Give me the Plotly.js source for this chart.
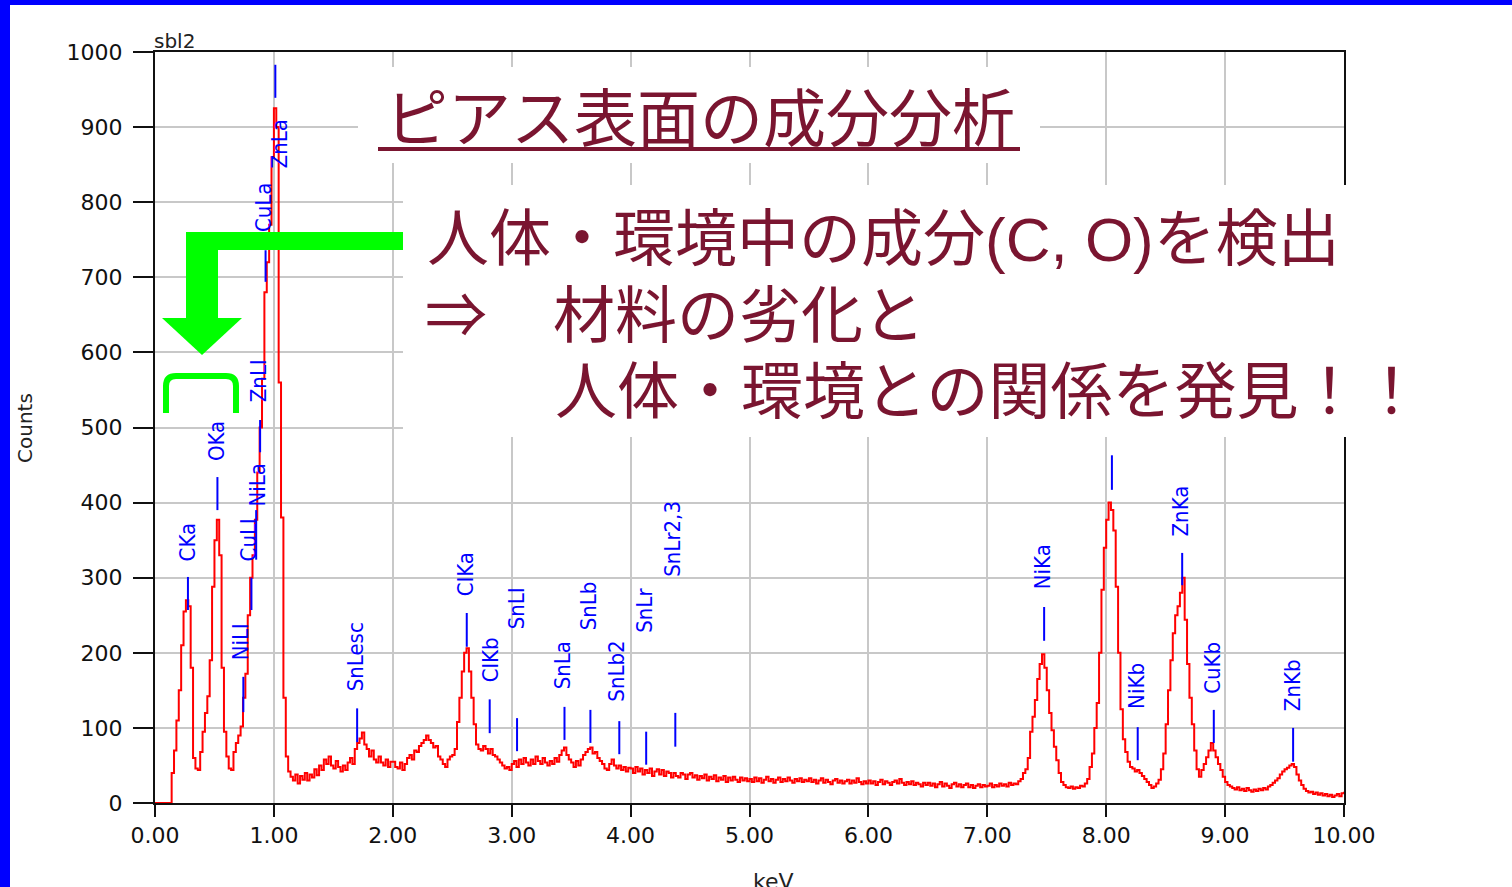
<!DOCTYPE html>
<html>
<head>
<meta charset="utf-8">
<script src="https://cdn.plot.ly/plotly-3.0.1.min.js"></script>
<style>
html,body{margin:0;padding:0;background:#fff;overflow:hidden;}
#chart{width:1512px;height:887px;}
</style>
</head>
<body>
<div id="chart"></div>
<script>
// ---- spectrum data: counts per 0.02 keV channel, 0.00 .. 10.00 keV ----
const keVStep = 0.02;
const counts = [
  0,0,0,0,0,0,0,40,70,110,150,210,255,270,262,180,60,46,44,68,95,120,142,190,288,
  350,377,330,180,95,62,46,44,68,80,90,102,140,172,250,300,330,377,440,500,565,680,720,770,860,
  925,900,560,380,140,62,42,35,30,38,26,36,31,40,30,38,34,45,37,50,44,58,52,62,50,
  46,56,48,42,50,44,54,60,52,72,80,86,94,78,72,62,70,58,54,62,54,50,58,48,55,
  55,48,46,54,44,52,60,64,58,70,68,76,80,84,90,84,80,74,76,62,58,52,48,58,62,
  64,72,108,140,175,200,206,175,140,105,78,72,70,76,72,66,72,64,62,58,54,50,46,48,44,
  52,56,48,58,52,60,54,50,58,52,62,56,52,60,54,50,56,52,60,55,64,70,74,64,58,
  54,48,56,50,58,64,68,72,74,66,68,60,56,52,46,44,52,58,50,46,50,44,48,42,47,
  46,40,48,42,46,38,44,40,46,36,42,45,38,44,36,42,40,34,40,36,34,40,38,32,38,
  40,34,37,31,36,33,38,30,35,32,37,29,34,31,36,28,34,30,35,31,28,34,30,33,29,
  32,28,34,29,33,27,31,35,29,32,27,31,34,28,32,29,34,30,27,32,29,33,28,31,29,
  33,28,31,26,30,33,27,31,28,25,30,32,27,30,26,29,31,26,30,27,33,28,25,29,26,
  30,26,29,24,28,31,25,29,27,24,28,30,26,32,27,24,28,25,29,24,27,25,22,27,24,
  27,23,26,21,25,28,22,26,23,20,25,27,22,25,21,24,26,21,24,20,23,25,21,24,22,
  23,26,21,24,22,26,23,25,22,27,24,26,25,29,32,40,45,60,95,115,137,165,185,198,180,
  150,120,97,75,57,40,28,24,21,20,22,19,21,20,23,22,26,32,48,66,100,133,200,284,340,
  377,400,390,363,288,200,125,85,68,55,48,46,42,44,40,36,32,28,24,20,22,26,31,45,66,
  105,150,190,226,250,262,280,300,244,185,140,105,70,45,35,44,52,61,70,80,70,61,52,44,35,
  28,24,22,20,18,21,17,19,16,20,17,15,18,16,19,17,20,18,22,24,27,30,33,38,42,
  45,47,50,52,48,38,30,24,19,16,14,15,12,14,11,13,10,12,9,11,8,10,12,9,13,
  15
];

// ---- peak identification markers ----
const peakNames   = ['CKa','OKa','NiLl','CuLl','NiLa','ZnLl','CuLa','ZnLa','SnLesc','ClKa','ClKb','SnLl','SnLa','SnLb','SnLb2','SnLr','SnLr2,3','NiKa','CuKa','NiKb','ZnKa','CuKb','ZnKb'];
const peakKeV     = [0.277,0.525,0.743,0.811,0.851,0.884,0.930,1.012,1.700,2.622,2.815,3.045,3.444,3.662,3.905,4.131,4.376,7.478,8.048,8.265,8.639,8.905,9.572];
const markBottom  = [257,390,121,257,324,467,694,939,81,208,93,69,84,80,65,51,75,216,417,57,290,80,55];
const markTop     = [301,434,168,300,390,510,736,983,126,253,138,113,128,124,109,95,120,261,463,101,333,124,100];
const labelKeV    = [0.269,0.513,0.715,0.782,0.866,0.866,0.917,1.043,1.682,2.607,2.817,3.036,3.423,3.642,3.886,4.121,4.357,7.460,8.032,8.259,8.621,8.898,9.563];
const labelBottom = [321,454,188,321,394,533,759,843,148,274,160,230,150,228,133,226,300,284,487,124,353,144,121];

// ---- texts ----
const titleText = 'ピアス表面の成分分析';
const noteLines = ['人体・環境中の成分(C, O)を検出', '材料の劣化と', '人体・環境との関係を発見！！'];
const latinPart = '(C, O)';
const arrowText = '⇒';
const sampleName = 'sbl2';
const xTitle = 'keV';
const yTitle = 'Counts';

// ---- geometry helpers (page pixels -> paper coords) ----
const W = 1512, H = 887;
const M = {l:155, r:168, t:52, b:84};
const PW = W - M.l - M.r, PH = H - M.t - M.b;
const px = x => (x - M.l) / PW;
const py = y => (M.t + PH - y) / PH;

const spectrumX = counts.map((_, i) => +(i * keVStep).toFixed(2));

const markX = [], markY = [];
peakKeV.forEach((k, i) => { markX.push(k, k, null); markY.push(markBottom[i], markTop[i], null); });

const traces = [
  {x: spectrumX, y: counts, type: 'scatter', mode: 'lines', line: {color: '#ff0000', width: 2, shape: 'hv'}, hoverinfo: 'x+y'},
  {x: markX, y: markY, type: 'scatter', mode: 'lines', line: {color: '#0000ff', width: 2}, hoverinfo: 'skip'}
];

const maroon = '#7a1530';
const green = '#00ff00';
const cjk = '"Noto Sans CJK JP", "Noto Sans CJK SC", sans-serif';
const narrow = '"Liberation Sans Narrow", "DejaVu Sans Condensed", "Arial Narrow", sans-serif';

const annotations = [];
peakNames.forEach((n, i) => {
  if (n === 'CuKa') return; // hidden behind the text panel in the reference
  annotations.push({x: labelKeV[i], y: labelBottom[i], xref: 'x', yref: 'y', text: n, showarrow: false,
    textangle: -90, xanchor: 'center', yanchor: 'bottom', borderpad: 0,
    font: {family: narrow, size: 22, color: '#0000ff'}});
});
const line1 = noteLines[0].replace(latinPart, '<span style="font-family:\'Liberation Sans\'">' + latinPart + '</span>');
annotations.push(
  {xref: 'paper', yref: 'paper', x: px(152), y: py(41), xanchor: 'left', yanchor: 'middle', text: sampleName, showarrow: false,
   font: {family: 'DejaVu Sans', size: 20, color: '#222'}},
  {xref: 'paper', yref: 'paper', x: px(25), y: py(428), xanchor: 'center', yanchor: 'middle', textangle: -90, text: yTitle, showarrow: false,
   font: {family: 'DejaVu Sans', size: 20, color: '#222'}},
  {xref: 'paper', yref: 'paper', x: px(773), y: py(881), xanchor: 'center', yanchor: 'middle', text: xTitle, showarrow: false,
   font: {family: 'DejaVu Sans', size: 22, color: '#222'}},
  {xref: 'paper', yref: 'paper', x: px(383), y: py(114), xanchor: 'left', yanchor: 'middle', text: titleText, showarrow: false,
   font: {family: cjk, size: 63, color: maroon}},
  {xref: 'paper', yref: 'paper', x: px(425), y: py(234), xanchor: 'left', yanchor: 'middle', text: line1, showarrow: false,
   font: {family: cjk, size: 62, color: maroon}},
  {xref: 'paper', yref: 'paper', x: px(423), y: py(311), xanchor: 'left', yanchor: 'middle', text: arrowText, showarrow: false,
   font: {family: cjk, size: 62, color: maroon}},
  {xref: 'paper', yref: 'paper', x: px(551), y: py(311), xanchor: 'left', yanchor: 'middle', text: noteLines[1], showarrow: false,
   font: {family: cjk, size: 62, color: maroon}},
  {xref: 'paper', yref: 'paper', x: px(553), y: py(387), xanchor: 'left', yanchor: 'middle', text: noteLines[2], showarrow: false,
   font: {family: cjk, size: 62, color: maroon}}
);

const rect = (x0, y0, x1, y1, color, layer) => ({type: 'rect', xref: 'paper', yref: 'paper',
  x0: px(x0), x1: px(x1), y0: py(y1), y1: py(y0), fillcolor: color, line: {width: 0}, layer: layer || 'above'});

const shapes = [
  rect(0, 0, 10, 887, '#0000ff'),
  rect(0, 0, 1512, 5, '#0000ff'),
  rect(358, 67, 1040, 163, '#ffffff'),
  rect(403, 185, 1512, 437, '#ffffff'),
  {type: 'line', xref: 'paper', yref: 'paper', x0: px(378), x1: px(1020), y0: py(149), y1: py(149), line: {color: maroon, width: 4}, layer: 'above'},
  rect(186, 232, 403, 250, green),
  rect(186, 232, 218, 318, green),
  {type: 'path', xref: 'paper', yref: 'paper', layer: 'above', fillcolor: green, line: {width: 0},
   path: `M ${px(162)} ${py(318)} L ${px(242)} ${py(318)} L ${px(202)} ${py(355)} Z`},
  {type: 'path', xref: 'paper', yref: 'paper', layer: 'above', line: {color: green, width: 6},
   path: `M ${px(166)} ${py(413)} L ${px(166)} ${py(386)} Q ${px(166)} ${py(376)} ${px(176)} ${py(376)} L ${px(226)} ${py(376)} Q ${px(236)} ${py(376)} ${px(236)} ${py(386)} L ${px(236)} ${py(413)}`}
];

const axisCommon = {showgrid: true, gridcolor: '#c8c8c8', gridwidth: 2, zeroline: false, showline: true,
  linecolor: '#111', linewidth: 2, mirror: true, ticks: 'outside', tickwidth: 2, tickcolor: '#111',
  tickfont: {family: 'DejaVu Sans', size: 22, color: '#111'}, fixedrange: true};

const layout = {
  width: W, height: H, margin: {l: M.l, r: M.r, t: M.t, b: M.b, pad: 0},
  paper_bgcolor: '#ffffff', plot_bgcolor: '#ffffff', showlegend: false,
  xaxis: Object.assign({}, axisCommon, {range: [0, 10], tick0: 0, dtick: 1, tickformat: '.2f', ticklen: 12, ticklabelstandoff: 0}),
  yaxis: Object.assign({}, axisCommon, {range: [0, 1000], tick0: 0, dtick: 100, ticklen: 20, ticklabelstandoff: 6}),
  annotations: annotations,
  shapes: shapes
};

Plotly.newPlot('chart', traces, layout, {displayModeBar: false, staticPlot: true});
</script>
</body>
</html>
